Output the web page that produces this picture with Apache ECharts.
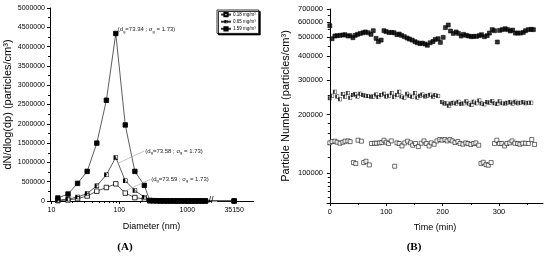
<!DOCTYPE html>
<html>
<head>
<meta charset="utf-8">
<script src="https://cdn.jsdelivr.net/npm/echarts@6/dist/echarts.min.js"></script>
<style>
  html, body { margin: 0; padding: 0; background: #fff; }
  #chart { width: 550px; height: 256px; }
</style>
</head>
<body>
<div id="chart"></div>
<script>
// (A) size distribution
const diameters = [12.4, 17.5, 24.2, 33.5, 46.5, 64.3, 88.5, 122, 169, 233,
  280, 315, 355, 400, 450, 505, 570, 640, 720, 810, 910, 1025, 1150, 1300, 1460, 1640, 1850, 35150];
const conc018 = [9000, 26000, 60000, 130000, 255000, 350000, 445000, 205000, 88000, 50000,
  5000, 4000, 3000, 2000, 2000, 1000, 1000, 1000, 1000, 1000, 1000, 500, 500, 500, 500, 500, 500, 300];
const conc065 = [22000, 50000, 105000, 195000, 395000, 680000, 1130000, 525000, 270000, 100000,
  8000, 5000, 4000, 3000, 2000, 2000, 1000, 1000, 1000, 1000, 1000, 1000, 500, 500, 500, 500, 500, 300];
const conc159 = [78000, 181000, 457000, 767000, 1500000, 2610000, 4340000, 1970000, 767000, 405000,
  14000, 9000, 6000, 5000, 4000, 3000, 3000, 2000, 2000, 2000, 1000, 1000, 1000, 1000, 1000, 1000, 1000, 500];
const legendNames = ['0.18 mg/m³', '0.65 mg/m³', '1.59 mg/m³'];
const diamLabels = [10, 100, 1000, 35150];
const diamMinor = [20, 30, 40, 50, 60, 70, 80, 90, 200, 300, 400, 500, 600, 700, 800, 900, 2000];
const fitDg = ['73.34', '73.58', '73.59'];

// (B) particle number vs time
const timeHigh = [0, 4, 9, 13, 18, 23, 27, 32, 36, 41, 45, 49, 54, 59, 63, 68, 73, 77, 82, 86, 91,
  96, 100, 105, 110, 114, 119, 123, 127, 132, 137, 141, 146, 151, 155, 160, 164, 169, 173, 178, 183,
  187, 192, 196, 201, 205, 210, 214, 219, 224, 228, 233, 237, 242, 246, 251, 255, 260, 265, 269, 274,
  279, 283, 288, 292, 297, 301, 306, 311, 315, 320, 324, 329, 333, 338, 343, 347, 352, 357, 361];
const numHigh = [574000, 492000, 508000, 510000, 512000, 514000, 516000, 508000, 510000, 498000,
  512000, 518000, 524000, 528000, 533000, 528000, 518000, 541000, 494000, 475000, 484000,
  541000, 535000, 530000, 530000, 528000, 516000, 520000, 512000, 504000, 496000, 490000, 484000,
  475000, 469000, 464000, 467000, 462000, 455000, 469000, 476000, 488000, 492000, 471000, 500000,
  561000, 579000, 539000, 524000, 533000, 524000, 508000, 518000, 512000, 508000, 504000, 506000,
  506000, 510000, 516000, 504000, 510000, 526000, 548000, 541000, 473000, 543000, 548000, 554000,
  548000, 539000, 545000, 526000, 526000, 526000, 530000, 541000, 548000, 550000, 548000];
const timeMid = [0, 4, 9, 13, 18, 23, 27, 32, 36, 41, 45, 49, 54, 59, 63, 68, 73, 77, 82, 86, 91,
  96, 100, 105, 110, 114, 119, 123, 127, 132, 137, 141, 146, 151, 155, 160, 164, 169, 173, 178, 183,
  187, 192, 199, 203, 207, 211, 215, 219, 224, 228, 233, 237, 242, 246, 251, 255, 260, 265, 269, 274,
  279, 283, 288, 292, 297, 301, 306, 311, 315, 320, 324, 329, 333, 338, 343, 347, 352, 357];
const numMid = [243000, 250000, 262000, 248000, 240000, 255000, 247000, 258000, 244000, 252000,
  255000, 248000, 256000, 252000, 250000, 249000, 247000, 248000, 254000, 246000, 252000,
  256000, 248000, 250000, 258000, 246000, 252000, 262000, 248000, 244000, 256000, 250000, 247000,
  258000, 245000, 250000, 254000, 248000, 250000, 253000, 247000, 252000, 249000,
  232000, 228000, 229000, 222000, 228000, 230000, 228000, 233000, 227000, 229000, 234000, 228000,
  224000, 233000, 229000, 236000, 228000, 226000, 232000, 230000, 235000, 229000, 227000, 234000,
  229000, 228000, 230000, 232000, 228000, 233000, 229000, 230000, 232000, 229000, 230000, 230000];
const timeLow = [0, 4, 9, 13, 18, 23, 27, 32, 36, 42, 46, 50, 56, 60, 64, 70, 74, 79, 83, 88, 92,
  96, 100, 104, 109, 115, 119, 123, 128, 133, 138, 143, 147, 152, 157, 162, 167, 171, 176, 180, 185,
  190, 195, 199, 204, 208, 213, 217, 222, 227, 231, 236, 241, 245, 250, 255, 259, 264, 268, 272, 277,
  281, 286, 292, 296, 301, 305, 310, 314, 319, 323, 328, 333, 337, 342, 347, 352, 358, 363];
const numLow = [142900, 145200, 145800, 144000, 142300, 144000, 145800, 146300, 145000, 113100,
  111800, 147500, 145800, 113100, 114900, 110000, 141800, 142300, 142300, 142900, 143500,
  147500, 144000, 141800, 146300, 108300, 142900, 141800, 137800, 142900, 145800, 142900, 139000,
  141800, 136800, 142300, 146300, 141800, 137800, 142900, 140600, 146300, 148700, 147500, 148700,
  146300, 148700, 146300, 143500, 145200, 141800, 140600, 142900, 141800, 140200, 141800, 142900,
  139000, 111800, 113500, 110400, 109600, 113100, 141800, 147500, 141800, 141800, 137800, 141800,
  142900, 146300, 142300, 141800, 140600, 142300, 142300, 141800, 148700, 140200];
const numLabels = [100000, 200000, 300000, 400000, 500000, 600000, 700000];
const numMinor = [75000, 80000, 85000, 90000, 95000, 120000, 140000, 160000, 180000,
  250000, 350000, 450000, 550000, 650000];
const timeLabels = [0, 100, 200, 300];
const timeMinor = [50, 150, 250, 350];

const FONT = 'Liberation Sans';
const INK = '#000';
// square outline with the left half filled
const halfSquare = 'path://M0,0L10,0L10,10L0,10Z M4.5,1.2L4.5,8.8L8.8,8.8L8.8,1.2Z';

const chart = echarts.init(document.getElementById('chart'), null, { renderer: 'canvas' });

const pair = (xs, ys) => xs.map((x, i) => [x, ys[i]]);
const axisLine = { show: true, lineStyle: { color: INK, width: 1 } };
const diamBreak = [{ start: 2240, end: 19770, gap: '3%' }];

const richFit = {
  t: { fontSize: 6, fontFamily: FONT, color: '#222', lineHeight: 8, verticalAlign: 'middle' },
  s: { fontSize: 4, fontFamily: FONT, color: '#222', lineHeight: 4, verticalAlign: 'bottom' }
};
function fitText(dg) {
  return '{t|(d}{s|g}{t|=' + dg + ' ; σ}{s|g}{t| = 1.73)}';
}
function fitLabel(dg, coord, off) {
  return {
    coord: coord, symbolSize: 0,
    label: { show: true, position: 'right', distance: 1, offset: off, formatter: fitText(dg), rich: richFit }
  };
}

function distSeries(name, values, symbol, color) {
  return {
    name: name, type: 'line', xAxisIndex: 0, yAxisIndex: 0,
    data: pair(diameters, values),
    symbol: symbol, symbolSize: 4.5,
    itemStyle: { color: color, borderColor: INK, borderWidth: symbol === 'rect' ? 0.8 : 0 },
    lineStyle: { color: '#333', width: 0.8 },
    emphasis: { disabled: true }
  };
}

const s018 = distSeries(legendNames[0], conc018, 'rect', '#fff');
s018.markPoint = { silent: true, data: [fitLabel(fitDg[2], [285, 562000], [0, 0])] };
s018.markLine = {
  silent: true, symbol: 'none', label: { show: false },
  lineStyle: { color: '#aaa', width: 0.7, type: 'solid' },
  data: [[{ coord: [115, 241000] }, { coord: [285, 562000] }]]
};
const s065 = distSeries(legendNames[1], conc065, halfSquare, INK);
s065.markPoint = { silent: true, data: [fitLabel(fitDg[1], [233, 1295000], [0, 0])] };
s065.markLine = {
  silent: true, symbol: 'none', label: { show: false },
  lineStyle: { color: '#aaa', width: 0.7, type: 'solid' },
  data: [[{ coord: [96.8, 984000] }, { coord: [233, 1295000] }]]
};
const s159 = distSeries(legendNames[2], conc159, 'rect', INK);
s159.markPoint = {
  silent: true,
  data: [
    fitLabel(fitDg[0], [88.5, 4340000], [1, -4]),
    { coord: [2240, 0], symbolSize: 0,
      label: { show: true, position: 'inside', formatter: '//', fontSize: 9, fontFamily: FONT, color: INK } }
  ]
};

function timeSeries(xs, ys, color) {
  return {
    type: 'scatter', xAxisIndex: 2, yAxisIndex: 1,
    data: pair(xs, ys), symbol: 'rect', symbolSize: 4,
    itemStyle: { color: color, borderColor: INK, borderWidth: 0.7 },
    emphasis: { disabled: true }
  };
}
const sMid = timeSeries(timeMid, numMid, INK);
sMid.symbol = halfSquare;
sMid.itemStyle = { color: INK, borderWidth: 0 };

const option = {
  animation: false,
  backgroundColor: '#fff',
  textStyle: { fontFamily: FONT },
  grid: [
    { left: 50, top: 8, right: 297, bottom: 55 },
    { left: 327, top: 9, right: 7, bottom: 53 }
  ],
  legend: {
    data: legendNames, orient: 'vertical', left: 217, top: 10,
    itemWidth: 10, itemHeight: 4, itemGap: 2, padding: [2, 3, 2, 3],
    textStyle: { fontSize: 4.5, fontFamily: FONT, color: INK, padding: [0, 0, 0, -3] },
    backgroundColor: '#fff', borderColor: INK, borderWidth: 0.8,
    shadowColor: INK, shadowBlur: 0, shadowOffsetX: 1.5, shadowOffsetY: 1.5,
    selectedMode: false
  },
  xAxis: [
    {
      gridIndex: 0, type: 'log', position: 'bottom', min: 9.5, max: 66700,
      breaks: diamBreak, breakArea: { show: false },
      name: 'Diameter (nm)', nameLocation: 'middle', nameGap: 21,
      nameTextStyle: { fontSize: 9, color: INK, fontFamily: FONT },
      axisLine: axisLine, splitLine: { show: false },
      axisTick: { show: true, length: 3, customValues: diamLabels, lineStyle: { color: INK } },
      axisLabel: { customValues: diamLabels, fontSize: 7, color: INK, margin: 6, formatter: v => String(v) }
    },
    {
      gridIndex: 0, type: 'log', position: 'bottom', min: 9.5, max: 66700,
      breaks: diamBreak, breakArea: { show: false },
      axisLine: { show: false }, splitLine: { show: false }, axisLabel: { show: false },
      axisTick: { show: true, length: 2, customValues: diamMinor, lineStyle: { color: INK } }
    },
    {
      gridIndex: 1, type: 'value', position: 'bottom', min: -5, max: 378,
      name: 'Time (min)', nameLocation: 'middle', nameGap: 20,
      nameTextStyle: { fontSize: 9, color: INK, fontFamily: FONT },
      axisLine: axisLine, splitLine: { show: false },
      axisTick: { show: true, length: 3, customValues: timeLabels, lineStyle: { color: INK } },
      axisLabel: { customValues: timeLabels, fontSize: 7.5, color: INK, margin: 5 }
    },
    {
      gridIndex: 1, type: 'value', position: 'bottom', min: -5, max: 378,
      axisLine: { show: false }, splitLine: { show: false }, axisLabel: { show: false },
      axisTick: { show: true, length: 2, customValues: timeMinor, lineStyle: { color: INK } }
    }
  ],
  yAxis: [
    {
      gridIndex: 0, type: 'value', position: 'left', min: 0, max: 5000000, interval: 500000,
      name: 'dN/dlog(dp) (particles/cm³)', nameLocation: 'middle', nameGap: 37,
      nameTextStyle: { fontSize: 11, color: INK, fontFamily: FONT },
      axisLine: axisLine, splitLine: { show: false },
      axisTick: { show: true, length: 3, lineStyle: { color: INK } },
      minorTick: { show: true, splitNumber: 2, length: 2, lineStyle: { color: INK } },
      axisLabel: { fontSize: 7, color: INK, margin: 5, formatter: v => String(v) }
    },
    {
      gridIndex: 1, type: 'log', position: 'left', min: 70000, max: 700000,
      name: 'Particle Number (particles/cm³)', nameLocation: 'middle', nameGap: 36,
      nameTextStyle: { fontSize: 11, color: INK, fontFamily: FONT },
      axisLine: axisLine, splitLine: { show: false },
      axisTick: { show: true, length: 3, customValues: numLabels, lineStyle: { color: INK } },
      axisLabel: { customValues: numLabels, fontSize: 7.5, color: INK, margin: 4, formatter: v => String(v) }
    },
    {
      gridIndex: 1, type: 'log', position: 'left', min: 70000, max: 700000,
      axisLine: { show: false }, splitLine: { show: false }, axisLabel: { show: false },
      axisTick: { show: true, length: 2, customValues: numMinor, lineStyle: { color: INK } }
    }
  ],
  graphic: [
    { type: 'text', x: 125, y: 247, style: { text: '(A)', font: 'bold 11px "Liberation Serif"', fill: INK, textAlign: 'center', textVerticalAlign: 'middle' } },
    { type: 'text', x: 414, y: 247, style: { text: '(B)', font: 'bold 11px "Liberation Serif"', fill: INK, textAlign: 'center', textVerticalAlign: 'middle' } }
  ],
  series: [
    s018, s065, s159,
    timeSeries(timeLow, numLow, '#fff'),
    sMid,
    timeSeries(timeHigh, numHigh, INK)
  ]
};

chart.setOption(option);
</script>
</body>
</html>
